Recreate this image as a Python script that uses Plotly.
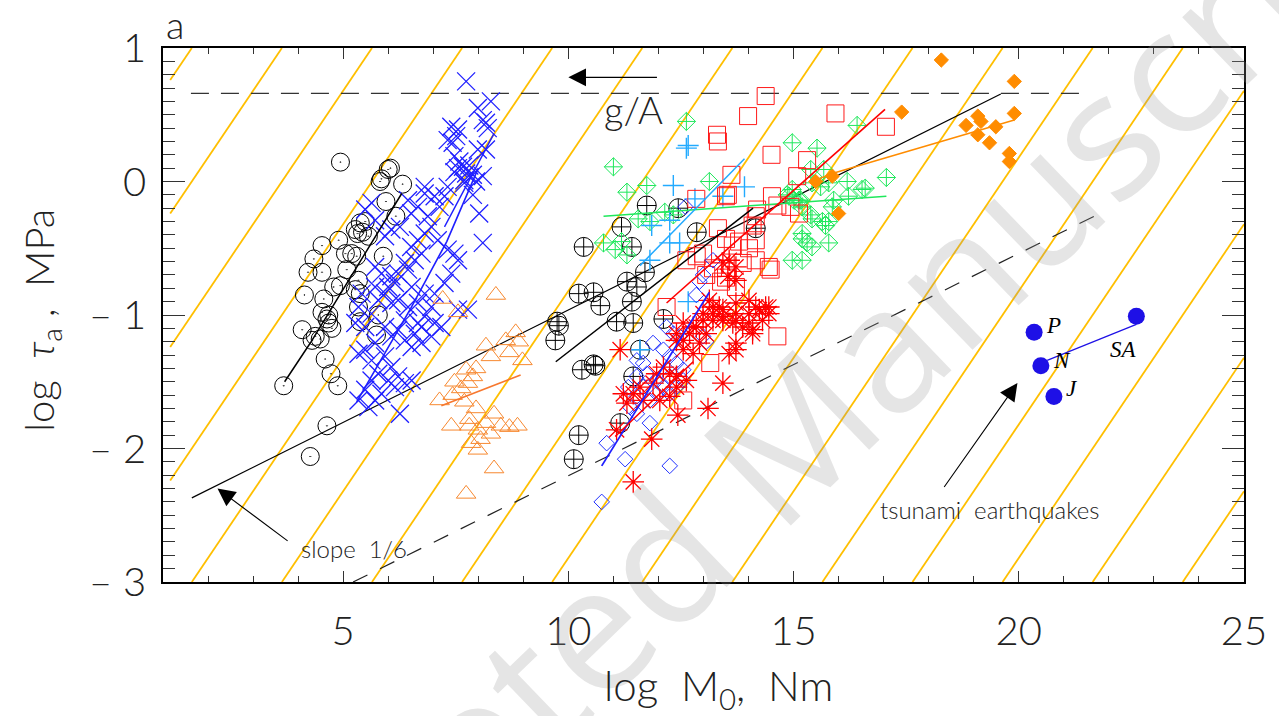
import plotly.graph_objects as go

# ---------------- data ----------------
circdot_x = [4.94, 6.05, 6.00, 5.85, 5.82, 6.32, 5.95, 6.17, 5.49, 5.38, 5.27, 5.32, 5.43, 5.56, 4.90, 4.53,
             5.05, 5.19, 5.30, 4.35, 5.89, 4.22, 4.53, 5.08, 5.34, 5.27, 5.38, 4.79, 4.94, 4.14, 4.57, 5.34,
             4.53, 4.64, 4.75, 4.09, 4.38, 5.74, 5.78, 4.31, 4.49, 4.68, 4.68, 4.60, 4.73, 4.88, 3.68, 4.64,
             4.27, 5.38]
circdot_y = [0.145, 0.10, 0.09, 0.02, 0.00, -0.02, -0.15, -0.26, -0.30, -0.31, -0.36, -0.39, -0.38, -0.41, -0.44, -0.48,
             -0.54, -0.54, -0.56, -0.58, -0.56, -0.68, -0.68, -0.66, -0.74, -0.81, -0.84, -0.79, -0.78, -0.85, -0.88, -0.94,
             -0.98, -1.03, -1.10, -1.11, -1.16, -1.15, -1.00, -1.19, -1.18, -1.00, -1.06, -1.33, -1.44, -1.53, -1.53, -1.83,
             -2.06, -1.05]
circdot_fit_x = [3.70, 4.27, 6.30]
circdot_fit_y = [-1.50, -1.21, -0.09]

xblue_x = [7.73, 8.28, 7.99, 7.40, 7.55, 7.51, 7.32, 7.43, 8.17, 8.21, 8.10, 7.99, 8.17, 7.47, 7.58, 7.66, 7.80, 7.55,
           7.47, 7.73, 7.88, 7.69, 8.10, 7.95, 7.88, 8.02, 8.10, 7.69, 7.32, 7.25, 7.03, 7.14, 6.81, 6.81, 6.44, 6.66,
           6.51, 5.63, 5.49, 5.71, 6.88, 6.96, 6.81, 6.66, 6.26, 6.07, 5.93, 7.10, 7.32, 7.47, 7.55, 6.51, 6.74, 6.59,
           6.37, 6.44, 6.22, 6.07, 6.15, 6.00, 5.85, 5.71, 7.40, 7.25, 7.03, 6.81, 6.66, 6.44, 6.96, 6.81, 7.03, 6.74,
           6.59, 6.37, 6.22, 6.07, 5.93, 5.78, 5.63, 5.49, 5.27, 5.41, 5.71, 5.34, 7.77, 6.52, 7.18, 6.96, 6.74, 6.52,
           6.37, 6.07, 5.93, 5.71, 5.49, 5.34, 5.63, 5.93, 6.07, 6.22, 6.00, 5.78, 5.63, 5.49, 5.34, 5.56, 5.71, 5.85,
           6.15, 6.37, 6.52, 6.26, 7.55, 6.66, 6.22]
xblue_y = [0.75, 0.60, 0.55, 0.41, 0.39, 0.34, 0.31, 0.29, 0.44, 0.40, 0.46, 0.24, 0.24, 0.19, 0.15, 0.11, 0.12, 0.10,
           0.07, 0.06, 0.05, 0.01, 0.04, 0.00, -0.10, -0.24, -0.46, -0.01, -0.04, -0.11, -0.11, -0.19, -0.04, -0.09, -0.14, -0.19,
           -0.24, -0.16, -0.21, -0.29, -0.26, -0.34, -0.39, -0.44, -0.34, -0.36, -0.41, -0.44, -0.51, -0.54, -0.59, -0.49, -0.54, -0.59,
           -0.61, -0.66, -0.69, -0.71, -0.76, -0.79, -0.69, -0.64, -0.69, -0.76, -0.84, -0.84, -0.91, -0.94, -0.94, -1.01, -1.06, -1.09,
           -1.14, -1.04, -0.89, -0.91, -0.84, -0.89, -0.99, -1.09, -1.06, -0.84, -0.79, -0.94, -0.96, -0.79, -1.09, -1.16, -1.21, -1.24,
           -1.19, -1.16, -1.09, -1.21, -1.26, -1.29, -1.34, -1.31, -1.39, -1.46, -1.49, -1.44, -1.49, -1.56, -1.64, -1.69, -1.64, -1.59,
           -1.54, -1.51, -1.49, -1.74, -0.96, -1.06, -1.11]
xblue_fit1_x = [5.30, 6.50, 7.30, 8.00]
xblue_fit1_y = [-1.65, -0.95, -0.45, 0.10]
xblue_fit2_x = [7.25, 8.35]
xblue_fit2_y = [-0.34, 0.36]

tri_x = [7.21, 7.55, 8.39, 8.83, 8.61, 8.17, 8.98, 8.28, 8.69, 7.73, 7.88, 7.47, 7.77, 7.14, 7.43, 7.69, 7.40, 7.80,
         7.80, 8.17, 8.35, 8.50, 8.69, 8.87, 7.99, 8.28, 7.84, 7.99, 8.35, 7.73, 7.62, 7.95, 8.05, 7.95, 8.90]
tri_y = [-0.88, -0.98, -0.85, -1.13, -1.19, -1.23, -1.34, -1.31, -1.28, -1.41, -1.46, -1.50, -1.51, -1.64, -1.60, -1.65, -1.83, -1.78,
         -1.83, -1.81, -1.74, -1.83, -1.84, -1.83, -1.86, -1.89, -1.96, -2.01, -2.15, -2.34, -1.55, -1.70, -1.93, -1.40, -1.20]
tri_fit_x = [7.18, 8.94]
tri_fit_y = [-1.68, -1.45]

cplus_x = [11.74, 12.44, 12.85, 14.16, 11.18, 10.34, 11.41, 11.30, 11.52, 11.70, 10.23, 10.56, 10.71, 11.41, 9.75, 9.71,
           11.07, 11.44, 12.11, 10.30, 10.60, 11.44, 11.59, 11.15, 10.23, 10.12, 9.79, 10.56]
cplus_y = [-0.18, -0.20, -0.38, -0.35, -0.34, -0.49, -0.49, -0.75, -0.79, -0.68, -0.84, -0.83, -0.93, -0.90, -1.05, -1.19,
           -1.05, -1.06, -1.03, -1.41, -1.38, -1.46, -1.26, -1.81, -1.90, -2.08, -1.08, -1.37]
cplus_fit_x = [9.72, 14.10]
cplus_fit_y = [-1.35, -0.20]

green_x = [12.62, 11.00, 11.30, 11.74, 12.14, 12.33, 11.81, 11.55, 10.78, 11.04, 11.30, 11.18, 13.13, 14.97, 15.52, 16.41,
           14.90, 15.12, 14.97, 15.41, 15.60, 15.78, 16.19, 16.22, 16.52, 16.59, 17.06, 15.89, 15.86, 15.19, 15.38, 15.41,
           15.64, 15.78, 15.71, 15.19, 15.19, 15.30, 15.41, 15.78, 14.97, 15.19, 15.38, 15.67, 14.86, 15.01, 15.16]
green_y = [0.45, 0.11, -0.08, -0.03, -0.23, -0.25, -0.30, -0.28, -0.46, -0.51, -0.55, -0.45, 0.00, 0.29, 0.25, 0.42,
           -0.11, -0.14, -0.06, -0.01, -0.04, -0.01, 0.00, -0.11, -0.06, -0.05, 0.03, -0.14, -0.19, -0.19, -0.25, -0.28,
           -0.30, -0.30, -0.33, -0.39, -0.43, -0.46, -0.49, -0.46, -0.59, -0.59, 0.09, 0.09, -0.10, -0.14, -0.14]
green_fit_x = [10.78, 17.06]
green_fit_y = [-0.26, -0.11]

cyan_x = [12.62, 12.66, 12.33, 13.91, 13.43, 12.81, 11.85, 12.25, 12.25, 12.47, 11.81, 12.66, 11.59]
cyan_y = [0.25, 0.27, -0.03, -0.04, -0.11, -0.13, -0.33, -0.29, -0.46, -0.46, -0.59, -0.90, -1.26]
cyan_fit_x = [11.59, 13.91]
cyan_fit_y = [-0.63, 0.17]

sq_x = [14.38, 13.99, 13.30, 13.32, 15.93, 14.51, 15.30, 15.08, 13.62, 13.54, 13.50, 12.84, 14.64, 14.19, 14.16, 14.09,
        15.12, 13.32, 13.50, 13.65, 13.79, 14.01, 14.16, 12.62, 12.85, 12.99, 13.87, 14.16, 14.45, 14.49, 13.72, 12.18,
        14.64, 13.06, 13.21, 13.50, 13.39, 13.15, 12.55, 17.05, 14.52, 14.93]
sq_y = [0.64, 0.49, 0.35, 0.30, 0.51, 0.20, 0.16, 0.04, 0.05, -0.10, -0.11, -0.13, -0.18, -0.21, -0.26, -0.33,
        -0.24, -0.35, -0.43, -0.48, -0.45, -0.50, -0.44, -0.59, -0.56, -0.54, -0.61, -0.59, -0.64, -0.66, -0.79, -0.94,
        -1.16, -0.70, -0.65, -0.72, -0.75, -1.36, -1.64, 0.41, -0.11, -0.19]
sq_fit_x = [12.18, 17.03]
sq_fit_y = [-0.91, 0.54]

dia_x = [10.74, 12.25, 11.26, 10.85, 11.81, 11.52, 11.37, 11.52, 11.81, 11.33, 11.52, 11.66, 11.96, 12.11, 11.96, 11.74,
         12.25, 11.52, 11.66, 11.88, 12.11, 12.25, 12.40, 12.55, 12.55, 12.40, 12.25, 12.18, 12.33, 12.47, 12.99, 13.06,
         13.21, 12.99, 12.91, 12.84, 12.60]
dia_y = [-2.40, -2.13, -2.08, -1.96, -1.81, -1.74, -1.69, -1.61, -1.64, -1.54, -1.46, -1.54, -1.49, -1.54, -1.59, -1.44,
         -1.46, -1.34, -1.36, -1.21, -1.26, -1.31, -1.36, -1.41, -1.49, -1.54, -1.59, -1.09, -1.14, -1.16, -1.16, -1.20,
         -0.59, -0.70, -0.75, -0.85, -0.19]
dia_fit_x = [10.74, 13.13]
dia_fit_y = [-2.13, -0.83]

ast_x = [11.44, 11.85, 11.15, 13.10, 13.43, 12.43, 12.62, 12.40, 12.25, 12.03, 11.66, 12.11, 12.25, 12.40, 11.96, 11.88,
         11.59, 11.44, 11.22, 11.30, 11.07, 12.55, 12.77, 12.91, 13.06, 12.84, 12.69, 12.55, 12.40, 13.21, 13.43, 13.65,
         13.87, 14.09, 13.72, 13.72, 13.57, 14.09, 14.45, 14.24, 14.01, 13.72, 13.43, 13.21, 12.99, 12.55, 13.43, 13.57,
         13.72, 13.54, 13.72, 13.13, 13.35, 13.72, 14.01, 14.16, 14.38, 14.45, 14.31, 14.01, 13.72, 13.43, 13.21, 12.99,
         12.77, 12.40]
ast_y = [-2.25, -1.93, -1.26, -1.70, -1.51, -1.75, -1.49, -1.54, -1.61, -1.64, -1.64, -1.39, -1.44, -1.46, -1.44, -1.51,
         -1.54, -1.59, -1.59, -1.66, -1.86, -1.26, -1.29, -1.21, -1.14, -1.09, -1.14, -1.19, -1.14, -1.04, -1.04, -1.06,
         -1.09, -1.11, -1.21, -1.26, -1.29, -1.14, -0.94, -0.96, -0.99, -0.99, -0.96, -0.94, -0.99, -1.06, -0.61, -0.59,
         -0.64, -0.71, -0.74, -0.89, -0.94, -0.91, -0.89, -0.94, -0.94, -0.99, -1.04, -1.06, -1.04, -1.01, -0.99, -1.04,
         -1.09, -1.19]
ast_fit_x = [11.04, 12.77]
ast_fit_y = [-1.91, -1.35]

odia_x = [18.28, 19.90, 17.40, 19.90, 18.83, 19.09, 19.16, 19.49, 19.09, 19.35, 19.79, 19.79, 15.86, 15.49, 16.00]
odia_y = [0.91, 0.75, 0.52, 0.51, 0.42, 0.49, 0.45, 0.41, 0.35, 0.29, 0.21, 0.15, 0.04, 0.00, -0.24]
odia_fit_x = [15.49, 15.86, 19.90]
odia_fit_y = [0.01, 0.06, 0.46]

tsu_names = ["P", "N", "J", "SA"]
tsu_x = [20.34, 20.49, 20.78, 22.61]
tsu_y = [-1.13, -1.38, -1.61, -1.01]
tsu_label_x = [20.78, 20.97, 21.19, 22.33]
tsu_label_y = [-1.08, -1.34, -1.55, -1.26]
tsu_fit_x = [20.63, 22.61]
tsu_fit_y = [-1.34, -1.07]

slope6_x = [1.64, 19.60]
slope6_y = [-2.37, 0.655]
lowdash_x = [5.22, 21.70]
lowdash_y = [-3.00, -0.256]
gA_x = [1.62, 21.40]
gA_y = [0.66, 0.66]

# iso-lines log tau = 0.5 log M0 + c (yellow)
iso_slope = 0.5
iso_c = [0.18, -0.82, -1.82, -2.82, -3.82, -4.82, -5.82, -6.82, -7.82, -8.82,
         -9.82, -10.82, -11.82, -12.82, -13.82, -14.82, -15.82]

x_ticks = [5, 10, 15, 20, 25]
y_ticks = [-3, -2, -1, 0, 1]
y_ticktext = ["\u2013 3", "\u2013 2", "\u2013 1", "0", "1"]

XR = [1, 25]
YR = [-3, 1]

# ---------------- figure ----------------
FONT = "Lato, Roboto, 'DejaVu Sans', sans-serif"
TXT = "#222222"
fig = go.Figure()

GOLD = "#ffbf00"
for c in iso_c:
    xa = max(1.16, (YR[0] - c) / iso_slope)
    xb = min(XR[1], (YR[1] - c) / iso_slope)
    if xb <= xa:
        continue
    fig.add_trace(go.Scatter(x=[xa, xb], y=[iso_slope * xa + c, iso_slope * xb + c], mode="lines",
                             line=dict(color=GOLD, width=1.8), hoverinfo="skip"))

def line(x, y, color, width=1.4, dash=None):
    fig.add_trace(go.Scatter(x=x, y=y, mode="lines", line=dict(color=color, width=width, dash=dash),
                             hoverinfo="skip"))

def pts(x, y, symbol, color, size, lw=1.0):
    fig.add_trace(go.Scatter(x=x, y=y, mode="markers",
                             marker=dict(symbol=symbol, size=size, color=color,
                                         line=dict(color=color, width=lw))))

line(gA_x, gA_y, "#333333", 1.3, "18px,12px")
line(lowdash_x, lowdash_y, "#222222", 1.2, "16px,14px")
line(slope6_x, slope6_y, "black", 1.2)

pts(circdot_x, circdot_y, "circle-open-dot", "black", 18)
pts(xblue_x, xblue_y, "x-thin-open", "#1f1fff", 18, 1.3)
pts(tri_x, tri_y, "triangle-up-open", "#f7882f", 17)
pts(cplus_x, cplus_y, "circle-cross-open", "black", 19)
pts(green_x, green_y, "diamond-cross-open", "#1fe85c", 14)
pts(cyan_x, cyan_y, "cross-thin-open", "#22aaff", 15, 1.4)
pts(sq_x, sq_y, "square-open", "#ff1a1a", 17)
pts(dia_x, dia_y, "diamond-open", "#2030ff", 12)
pts(ast_x, ast_y, "asterisk-open", "#ff0000", 18, 1.3)
pts(odia_x, odia_y, "diamond", "#ff8c00", 11)
pts(tsu_x, tsu_y, "circle", "#1e10e6", 17, 0)

line(circdot_fit_x, circdot_fit_y, "black", 1.5)
line(xblue_fit1_x, xblue_fit1_y, "#1f1fff", 1.6)
line(xblue_fit2_x, xblue_fit2_y, "#1f1fff", 1.4)
line(tri_fit_x, tri_fit_y, "#f7782f", 1.6)
line(cplus_fit_x, cplus_fit_y, "black", 1.5)
line(green_fit_x, green_fit_y, "#1fe85c", 1.5)
line(cyan_fit_x, cyan_fit_y, "#22aaff", 1.5)
line(sq_fit_x, sq_fit_y, "#ff0000", 1.6)
line(dia_fit_x, dia_fit_y, "#1f1fff", 1.8)
line(ast_fit_x, ast_fit_y, "#ff0000", 1.6)
line(odia_fit_x, odia_fit_y, "#ff8c00", 1.5)
line(tsu_fit_x, tsu_fit_y, "#1e10e6", 1.2)

ann = []

# watermark (drawn first so other texts sit above it)
ann.append(dict(x=(780 - 163) / 1088, y=(582 - 445) / 534, xref="paper", yref="paper",
                xanchor="center", yanchor="middle",
                text="Accepted Manuscript", showarrow=False, textangle=-44,
                font=dict(family="'Open Sans', sans-serif", size=175, color="rgba(150,150,150,0.25)")))

for n, lx, ly in zip(tsu_names, tsu_label_x, tsu_label_y):
    ann.append(dict(x=lx, y=ly, xref="x", yref="y", xanchor="center", yanchor="middle",
                    text="<i>" + n + "</i>", showarrow=False,
                    font=dict(family="'Liberation Serif', 'DejaVu Serif', serif", size=23, color="black")))

# arrows
for tip_x, tip_y, tail_x, tail_y in [(10.0, 0.78, 12.0, 0.78), (2.21, -2.30, 3.80, -2.70),
                                     (19.97, -1.51, 18.32, -2.30)]:
    ann.append(dict(x=tip_x, y=tip_y, ax=tail_x, ay=tail_y, xref="x", yref="y", axref="x", ayref="y",
                    text="", showarrow=True, arrowhead=2, arrowsize=3.2, arrowwidth=1.1,
                    arrowcolor="black", standoff=0))

ann.append(dict(x=11.44, y=0.54, xref="x", yref="y", xanchor="center", yanchor="middle", text="g/A",
                showarrow=False, font=dict(family=FONT, size=38, color=TXT, weight=300)))
ann.append(dict(x=5.23, y=-2.75, xref="x", yref="y", xanchor="center", yanchor="middle", text="slope  1/6",
                showarrow=False, font=dict(family=FONT, size=24, color=TXT, weight=300)))
ann.append(dict(x=19.36, y=-2.46, xref="x", yref="y", xanchor="center", yanchor="middle",
                text="tsunami  earthquakes", showarrow=False,
                font=dict(family=FONT, size=24, color=TXT, weight=300)))

# axis titles and panel letter
ann.append(dict(x=(722 - 163) / 1088, y=(582 - 688) / 534, xref="paper", yref="paper",
                xanchor="center", yanchor="middle",
                text="log  M<sub>0</sub>,  Nm", showarrow=False,
                font=dict(family=FONT, size=42, color=TXT, weight=300)))
ann.append(dict(x=(40 - 163) / 1088, y=(582 - 320) / 534, xref="paper", yref="paper", textangle=-90,
                xanchor="center", yanchor="middle",
                text="log  <i>\u03c4</i><sub>a</sub> ,  MPa", showarrow=False,
                font=dict(family=FONT, size=40, color=TXT, weight=300)))
ann.append(dict(x=(175 - 163) / 1088, y=(582 - 24) / 534, xref="paper", yref="paper",
                xanchor="center", yanchor="middle",
                text="a", showarrow=False, font=dict(family=FONT, size=38, color=TXT, weight=300)))

axis_common = dict(showgrid=False, zeroline=False, showline=True, linecolor="black", linewidth=1.5,
                   mirror="ticks", ticks="inside", tickcolor="#333", tickwidth=1.2,
                   tickfont=dict(family=FONT, size=40, color=TXT, weight=300))

fig.update_layout(
    width=1279, height=716, margin=dict(l=163, r=28, t=48, b=134),
    paper_bgcolor="white", plot_bgcolor="white", showlegend=False,
    xaxis=dict(range=XR, tickmode="array", tickvals=x_ticks, ticktext=[str(v) for v in x_ticks],
               ticklen=11, ticklabelstandoff=13,
               minor=dict(tickmode="linear", tick0=0, dtick=1, ticklen=6, ticks="inside", tickcolor="#333", tickwidth=1.2),
               **axis_common),
    yaxis=dict(range=YR, tickmode="array", tickvals=y_ticks, ticktext=y_ticktext,
               ticklen=22, ticklabelstandoff=7,
               minor=dict(tickmode="linear", tick0=0, dtick=0.1, ticklen=12, ticks="inside", tickcolor="#333", tickwidth=1.2),
               **axis_common),
    annotations=ann,
)

fig.write_html("out.html")
